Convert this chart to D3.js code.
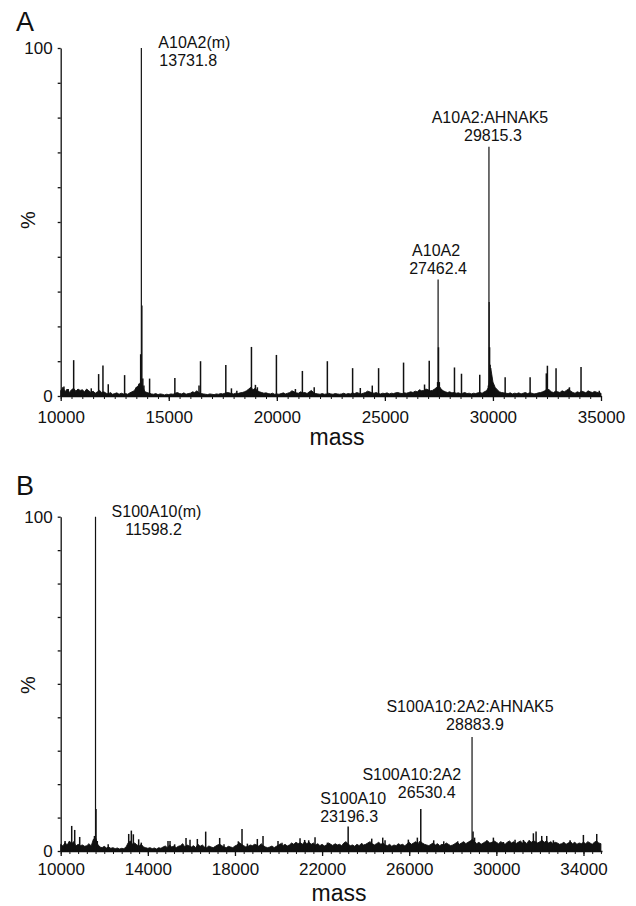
<!DOCTYPE html>
<html>
<head>
<meta charset="utf-8">
<script src="https://cdn.jsdelivr.net/npm/d3@7"></script>
<style>
  body{margin:0;background:#fff;}
  text{font-family:"Liberation Sans",Arial,Helvetica,sans-serif;fill:#111;}
</style>
</head>
<body>
<svg id="chart" width="636" height="906"></svg>
<script>
// ---- data ----
// baseline noise, % intensity every 100 Da starting at 10000
var noiseA = [
 1.5,2.5,1.2,2.0,1.0,1.8,2.2,1.4,2.0,1.6,
 1.8,1.2,2.0,1.5,1.0,1.4,0.8,1.2,1.6,1.0,
 1.2,0.8,0.6,1.0,0.5,0.7,0.9,0.5,0.8,0.6,
 0.7,0.5,0.9,1.2,1.5,2.5,3.0,4.0,2.5,1.2,
 1.0,0.8,0.6,0.5,0.7,0.4,0.6,0.5,0.3,0.5,
 0.4,0.6,0.5,0.8,1.0,0.7,0.6,0.9,0.5,0.7,
 0.8,1.2,1.0,1.5,0.9,0.7,0.6,0.5,0.4,0.6,
 0.5,0.4,0.6,0.5,0.7,0.6,0.8,1.0,0.9,0.7,
 0.6,0.8,0.7,0.9,1.0,1.2,1.5,2.0,2.5,1.8,
 2.2,1.5,1.2,1.0,0.8,0.9,0.7,0.6,0.8,0.5,
 0.6,0.5,0.7,0.9,0.6,0.8,1.0,1.5,1.2,0.9,
 0.8,1.2,0.9,1.0,0.7,1.2,1.6,1.0,0.7,0.6,
 0.5,0.7,0.5,0.6,0.8,0.6,0.5,0.7,0.6,0.5,
 0.6,0.8,0.5,0.7,0.6,0.9,0.7,1.0,0.8,0.6,
 0.8,1.0,1.4,1.2,0.9,0.8,1.0,0.7,0.6,0.8,
 0.7,0.9,0.6,0.8,0.7,0.9,1.0,0.8,0.7,0.9,
 0.8,1.0,1.2,1.0,1.4,1.2,1.8,1.5,1.6,2.0,
 1.8,1.5,1.6,2.0,2.5,3.0,2.0,1.5,1.2,1.0,
 1.2,0.9,1.0,0.8,0.9,0.7,0.8,1.0,0.7,0.8,
 0.6,0.8,0.7,0.9,1.0,0.8,1.2,1.5,2.5,8.0,
 4.0,2.5,1.8,1.2,1.0,0.9,0.8,0.7,0.9,0.6,
 0.8,0.7,0.9,0.6,0.8,1.0,0.7,0.9,0.8,0.6,
 0.7,0.9,1.0,1.2,1.5,2.0,1.8,1.2,1.0,1.4,
 1.2,1.0,1.5,1.2,1.6,2.0,1.4,1.0,0.8,1.2,
 1.0,1.4,1.2,0.9,1.5,1.2,1.0,1.3,1.1,0.9,
 0.8
];
var noiseB = [
 2.0,1.5,2.5,1.8,3.0,2.2,2.8,1.5,2.0,1.6,
 1.8,1.4,1.6,2.2,1.5,3.5,4.0,2.0,1.2,1.0,
 1.4,0.9,1.2,0.8,1.0,0.7,0.9,0.6,0.8,0.7,
 1.2,2.5,3.0,2.0,2.4,1.8,1.5,2.0,1.2,1.0,
 0.8,1.0,0.7,0.9,0.6,1.0,0.8,1.2,1.5,1.0,
 1.8,1.2,1.5,1.0,1.4,1.6,2.2,1.2,1.8,1.5,
 1.2,1.6,1.0,2.0,1.4,1.8,1.2,1.0,1.5,1.2,
 1.0,1.4,1.8,2.0,1.6,1.2,1.0,1.4,1.2,1.0,
 1.5,1.8,2.5,2.0,1.6,1.2,1.4,1.8,1.6,2.0,
 1.8,1.4,2.2,1.6,1.2,1.0,1.2,1.5,1.0,1.4,
 1.8,2.2,1.6,2.0,1.5,1.8,2.4,2.0,2.6,2.2,
 2.5,2.0,2.8,2.2,2.6,2.0,2.4,1.8,2.2,1.6,
 2.0,1.5,1.8,2.4,2.0,1.6,2.2,1.8,2.0,1.6,
 2.4,2.8,2.0,1.6,1.8,1.4,2.0,1.6,2.2,1.8,
 2.0,2.4,2.8,2.2,1.8,2.2,2.6,2.0,2.4,1.8,
 1.6,2.0,1.4,1.8,1.6,2.2,1.8,2.0,1.5,2.2,
 2.6,2.0,2.4,2.8,2.2,3.0,2.4,2.0,1.8,1.6,
 2.0,2.4,1.8,2.2,1.6,2.0,1.8,2.4,2.0,1.6,
 1.8,2.2,2.6,2.0,2.4,2.8,2.2,2.6,3.0,3.5,
 2.8,2.2,2.6,2.0,2.4,2.8,3.0,2.4,2.6,3.0,
 2.6,2.2,2.8,2.4,2.0,2.6,3.0,2.4,2.8,2.2,
 2.6,3.0,2.4,2.8,2.2,3.2,2.6,3.0,2.8,2.4,
 2.8,3.2,2.6,3.0,2.4,2.8,2.2,2.6,2.4,2.0,
 2.2,2.6,2.0,2.4,2.8,2.2,2.6,2.0,2.4,2.2,
 2.6,2.2,2.8,2.4,2.0,2.6,3.0,2.4,2.2
];
var noiseStart = 10000, noiseStep = 100;

// peaks [mass, % intensity]
var peaksA = [
 [10150,2.7],[10350,2.0],[10600,10.3],[11415,2.2],[11755,6.3],[11955,8.8],[12200,3.4],[12957,6.0],
 [13500,2.5],[13620,3.5],[13700,12],[13731.8,100],[13760,26],[13800,5],[13850,3],
 [14113,5.0],[15282,5.2],[16400,3],[16470,10.0],[17640,8.9],[17900,2.2],[18150,1.5],
 [18826,14.1],[19010,3.2],[19100,2.5],[19981,11.8],[20860,2],[21183,7.2],[21730,2.5],[22338,10],
 [23507,8.0],[23863,2.3],[24417,3],[24709,8.0],[25864,9.6],[26835,3.3],[27052,10.1],
 [27440,4],[27462.4,33.5],[27480,14],[27520,4],
 [28220,8.2],[28545,6.4],[29390,6.1],
 [29790,3],[29815.3,71.6],[29825,27],[29845,14],[29870,9],[29900,6],[29950,4],[30020,3],
 [30565,5.4],[31720,5.4],[32470,6.5],[32520,8.7],[32920,8.0],[33540,2.5],[34076,8.3],[34920,1.5]
];
var peaksB = [
 [10200,3],[10505,7.5],[10643,6.3],[10872,4.2],[11550,4.5],[11598.2,100],[11620,12.6],[11680,3],[12180,2],
 [13122,5.1],[13243,6.1],[13335,5],[13580,3.5],[13700,2.5],[14926,3],[15018,3],[15232,2],
 [15753,3.9],[15937,3.4],[16273,3.6],[16656,5.8],[17298,3.9],[17497,2],[18155,2.9],[18324,6.6],[18570,2.2],
 [19027,3.6],[19288,4.5],[19976,3],[20160,2.5],[20987,3.8],[21200,3.3],[21385,3.2],[21676,4.1],[22243,2.5],
 [22550,2],[23196.3,7.3],[23820,2.3],[24279,3.7],[24784,4],[24890,3.2],[25960,3.4],[26373,4],[26530.4,12.6],
 [27124,3.2],[27584,2.9],[28226,2.9],[28883.9,34.1],[28930,5.8],[29000,4],[29558,3.2],[29864,4],[30323,2.7],
 [30859,3.4],[31242,3.3],[31700,5.3],[31823,5.8],[32083,4.5],[32313,4.5],[32619,3.2],[33384,3.2],[33996,4.8],[34608,5.1]
];

// annotations
var labelsA = [
 {mass:13731.8, lines:["A10A2(m)","13731.8"]},
 {mass:27462.4, lines:["A10A2","27462.4"]},
 {mass:29815.3, lines:["A10A2:AHNAK5","29815.3"]}
];
var labelsB = [
 {mass:11598.2, lines:["S100A10(m)","11598.2"]},
 {mass:23196.3, lines:["S100A10","23196.3"]},
 {mass:26530.4, lines:["S100A10:2A2","26530.4"]},
 {mass:28883.9, lines:["S100A10:2A2:AHNAK5","28883.9"]}
];

var ticksA = [10000,15000,20000,25000,30000,35000];
var ticksB = [10000,14000,18000,22000,26000,30000,34000];
var yLabels = [0,100];

var svg = d3.select("#chart");

function drawPanel(p){
  var x = d3.scaleLinear().domain(p.domain).range(p.xr);
  var y = d3.scaleLinear().domain([0,100]).range(p.yr);
  var g = svg.append("g");

  // panel letter
  g.append("text").attr("x",16).attr("y",p.letterY).attr("font-size",27).text(p.letter);

  // y axis
  var ya = g.append("g").attr("transform","translate("+p.xr[0]+",0)")
    .call(d3.axisLeft(y).tickValues(d3.range(0,101,10)).tickSize(3).tickSizeOuter(0).tickPadding(5)
      .tickFormat(function(d){ return yLabels.indexOf(d) > -1 ? d : ""; }));
  ya.selectAll("text").attr("font-size",17).attr("font-family",null).attr("fill","#111");
  ya.selectAll("path,line").attr("stroke","#111").attr("stroke-width",1.3);

  g.append("text")
    .attr("transform","translate(35,"+p.pctY+") rotate(-90)")
    .attr("text-anchor","middle").attr("font-size",20).text("%");

  // minor x ticks
  var minor = d3.range(p.domain[0], p.domain[1]+1, p.minorStep);
  var xm = g.append("g").attr("transform","translate(0,"+y(0)+")")
    .call(d3.axisBottom(x).tickValues(minor).tickSize(3).tickFormat(""));
  xm.select(".domain").remove();
  xm.selectAll("line").attr("stroke","#111").attr("stroke-width",1);

  var xa = g.append("g").attr("transform","translate(0,"+y(0)+")")
    .call(d3.axisBottom(x).tickValues(p.ticks).tickSize(5).tickSizeOuter(0).tickPadding(p.tickPad)
      .tickFormat(d3.format("d")));
  xa.selectAll("text").attr("font-size",17).attr("font-family",null).attr("fill","#111");
  xa.selectAll("path,line").attr("stroke","#111").attr("stroke-width",1.3);

  g.append("text").attr("x",p.massX).attr("y",p.massY).attr("text-anchor","middle")
    .attr("font-size",23).text("mass");

  // baseline noise trace, filled down to zero like the dense trace in the figure
  var area = d3.area()
    .x(function(d,i){ return x(noiseStart + i*noiseStep); })
    .y0(y(0))
    .y1(function(d){ return y(d); });
  g.append("path").datum(p.noise).attr("d",area)
    .attr("fill","#111").attr("stroke","#111").attr("stroke-width",0.9)
    .attr("stroke-linejoin","miter");

  // peaks as sticks
  g.selectAll(".pk").data(p.peaks).enter().append("line")
    .attr("class","pk")
    .attr("x1",function(d){ return x(d[0]); })
    .attr("x2",function(d){ return x(d[0]); })
    .attr("y1",y(0))
    .attr("y2",function(d){ return y(d[1]); })
    .attr("stroke","#111")
    .attr("stroke-width",function(d){ return d[1] > 20 ? 1.2 : 1.5; });

  // annotations
  p.labels.forEach(function(l, i){
    var off = p.labelPos[i];
    l.lines.forEach(function(t, j){
      g.append("text")
        .attr("x", x(l.mass) + off[j][0])
        .attr("y", off[j][1])
        .attr("text-anchor", off[j][2])
        .attr("font-size",16)
        .text(t);
    });
  });
}

drawPanel({
  letter:"A", letterY:31, pctY:220,
  domain:[10000,35000], xr:[60.7,601], yr:[396,48],
  ticks:ticksA, minorStep:500, tickPad:10,
  massX:337, massY:445,
  noise:noiseA, peaks:peaksA, labels:labelsA,
  labelPos:[
    [[17,48,"start"],[18,66,"start"]],
    [[-2,256,"middle"],[0,274,"middle"]],
    [[1,123,"middle"],[4,141,"middle"]]
  ]
});

drawPanel({
  letter:"B", letterY:495, pctY:685,
  domain:[10000,34850], xr:[60.7,602], yr:[851,516.7],
  ticks:ticksB, minorStep:400, tickPad:7,
  massX:339, massY:901,
  noise:noiseB, peaks:peaksB, labels:labelsB,
  labelPos:[
    [[61,517,"middle"],[58,535,"middle"]],
    [[5,804,"middle"],[1,822,"middle"]],
    [[-9,780,"middle"],[6,798,"middle"]],
    [[-2,712,"middle"],[3,730,"middle"]]
  ]
});
</script>
</body>
</html>
